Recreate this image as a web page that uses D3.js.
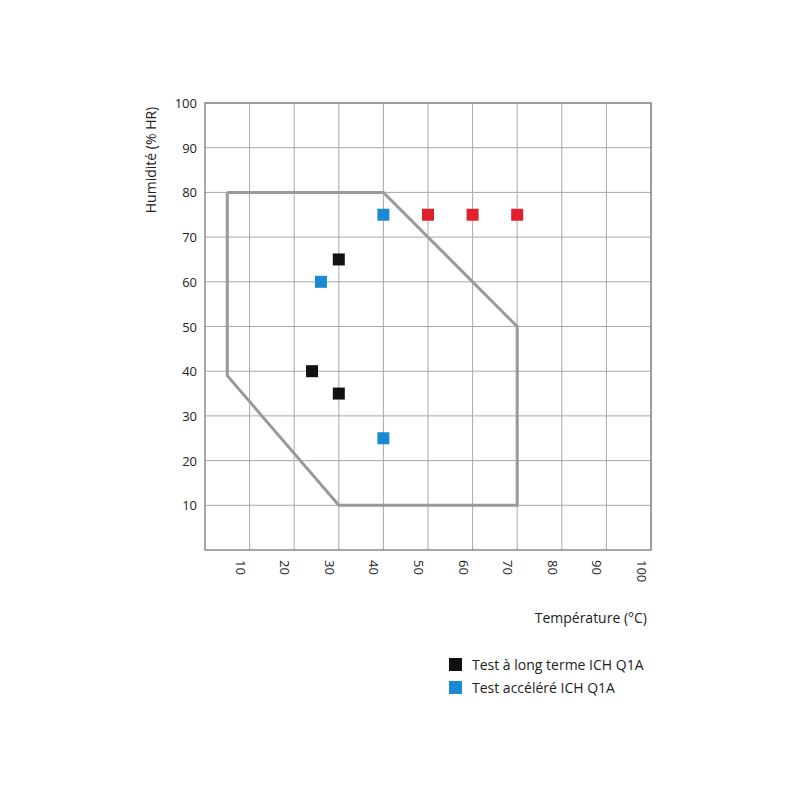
<!DOCTYPE html>
<html>
<head>
<meta charset="utf-8">
<script src="https://cdn.jsdelivr.net/npm/d3@7"></script>
<style>
  body { margin: 0; background: #fff; }
  text { font-family: "Open Sans", "DejaVu Sans", sans-serif; fill: #222; }
</style>
</head>
<body>
<div id="chart"></div>
<script>
const xTicks = [10, 20, 30, 40, 50, 60, 70, 80, 90, 100];
const yTicks = [10, 20, 30, 40, 50, 60, 70, 80, 90, 100];

// zone (temperature, humidity)
const zoneTemp = [5, 40, 70, 70, 30, 5, 5];
const zoneHum = [80, 80, 50, 10, 10, 39, 80];

const longTemp = [30, 24, 30];
const longHum = [65, 40, 35];
const accelTemp = [26, 40, 40];
const accelHum = [60, 75, 25];
const otherTemp = [50, 60, 70];
const otherHum = [75, 75, 75];

const legendLabels = ["Test à long terme ICH Q1A", "Test accéléré ICH Q1A"];
const legendColors = ["#111111", "#1b8ad0"];

const margin = { left: 205, top: 103 },
  width = 446,
  height = 447;

const svg = d3.select("#chart").append("svg")
  .attr("width", 800).attr("height", 800);
const g = svg.append("g").attr("transform", `translate(${margin.left},${margin.top})`);

const x = d3.scaleLinear().domain([0, 100]).range([0, width]);
const y = d3.scaleLinear().domain([0, 100]).range([height, 0]);

// grid
g.selectAll(".vg").data(xTicks).join("line")
  .attr("x1", d => x(d)).attr("x2", d => x(d))
  .attr("y1", 0).attr("y2", height)
  .attr("stroke", "#a8a8a8").attr("stroke-width", 1);
g.selectAll(".hg").data(yTicks).join("line")
  .attr("x1", 0).attr("x2", width)
  .attr("y1", d => y(d)).attr("y2", d => y(d))
  .attr("stroke", "#a8a8a8").attr("stroke-width", 1);
g.append("rect").attr("width", width).attr("height", height)
  .attr("fill", "none").attr("stroke", "#8a8a8a").attr("stroke-width", 1.5);

// tick labels
g.selectAll(".yl").data(yTicks).join("text")
  .attr("x", -8).attr("y", d => y(d) + 5)
  .attr("text-anchor", "end").attr("font-size", 13)
  .text(d => d);
g.selectAll(".xl").data(xTicks).join("text")
  .attr("transform", d => `translate(${x(d) - 14},${height + 10}) rotate(90)`)
  .attr("text-anchor", "start").attr("font-size", 13)
  .text(d => d);

// zone polygon
const zone = zoneTemp.map((t, i) => [t, zoneHum[i]]);
g.append("path").datum(zone)
  .attr("fill", "none").attr("stroke", "#999").attr("stroke-width", 3)
  .attr("d", d3.line().x(d => x(d[0])).y(d => y(d[1])));

// points
const s = 12;
function pts(ts, hs, color) {
  g.append("g").selectAll("rect").data(ts.map((t, i) => [t, hs[i]])).join("rect")
    .attr("x", d => x(d[0]) - s / 2).attr("y", d => y(d[1]) - s / 2)
    .attr("width", s).attr("height", s).attr("fill", color);
}
pts(longTemp, longHum, legendColors[0]);
pts(accelTemp, accelHum, legendColors[1]);
pts(otherTemp, otherHum, "#e2202c");

// axis titles
svg.append("text")
  .attr("transform", "translate(156,160) rotate(-90)")
  .attr("text-anchor", "middle").attr("font-size", 14)
  .text("Humidité (% HR)");
svg.append("text")
  .attr("x", 647).attr("y", 623).attr("text-anchor", "end").attr("font-size", 14)
  .text("Température (°C)");

// legend
legendLabels.forEach((l, i) => {
  svg.append("rect").attr("x", 449).attr("y", 658 + i * 23)
    .attr("width", 13).attr("height", 13).attr("fill", legendColors[i]);
  svg.append("text").attr("x", 472).attr("y", 670 + i * 23)
    .attr("font-size", 14).text(l);
});
</script>
</body>
</html>
